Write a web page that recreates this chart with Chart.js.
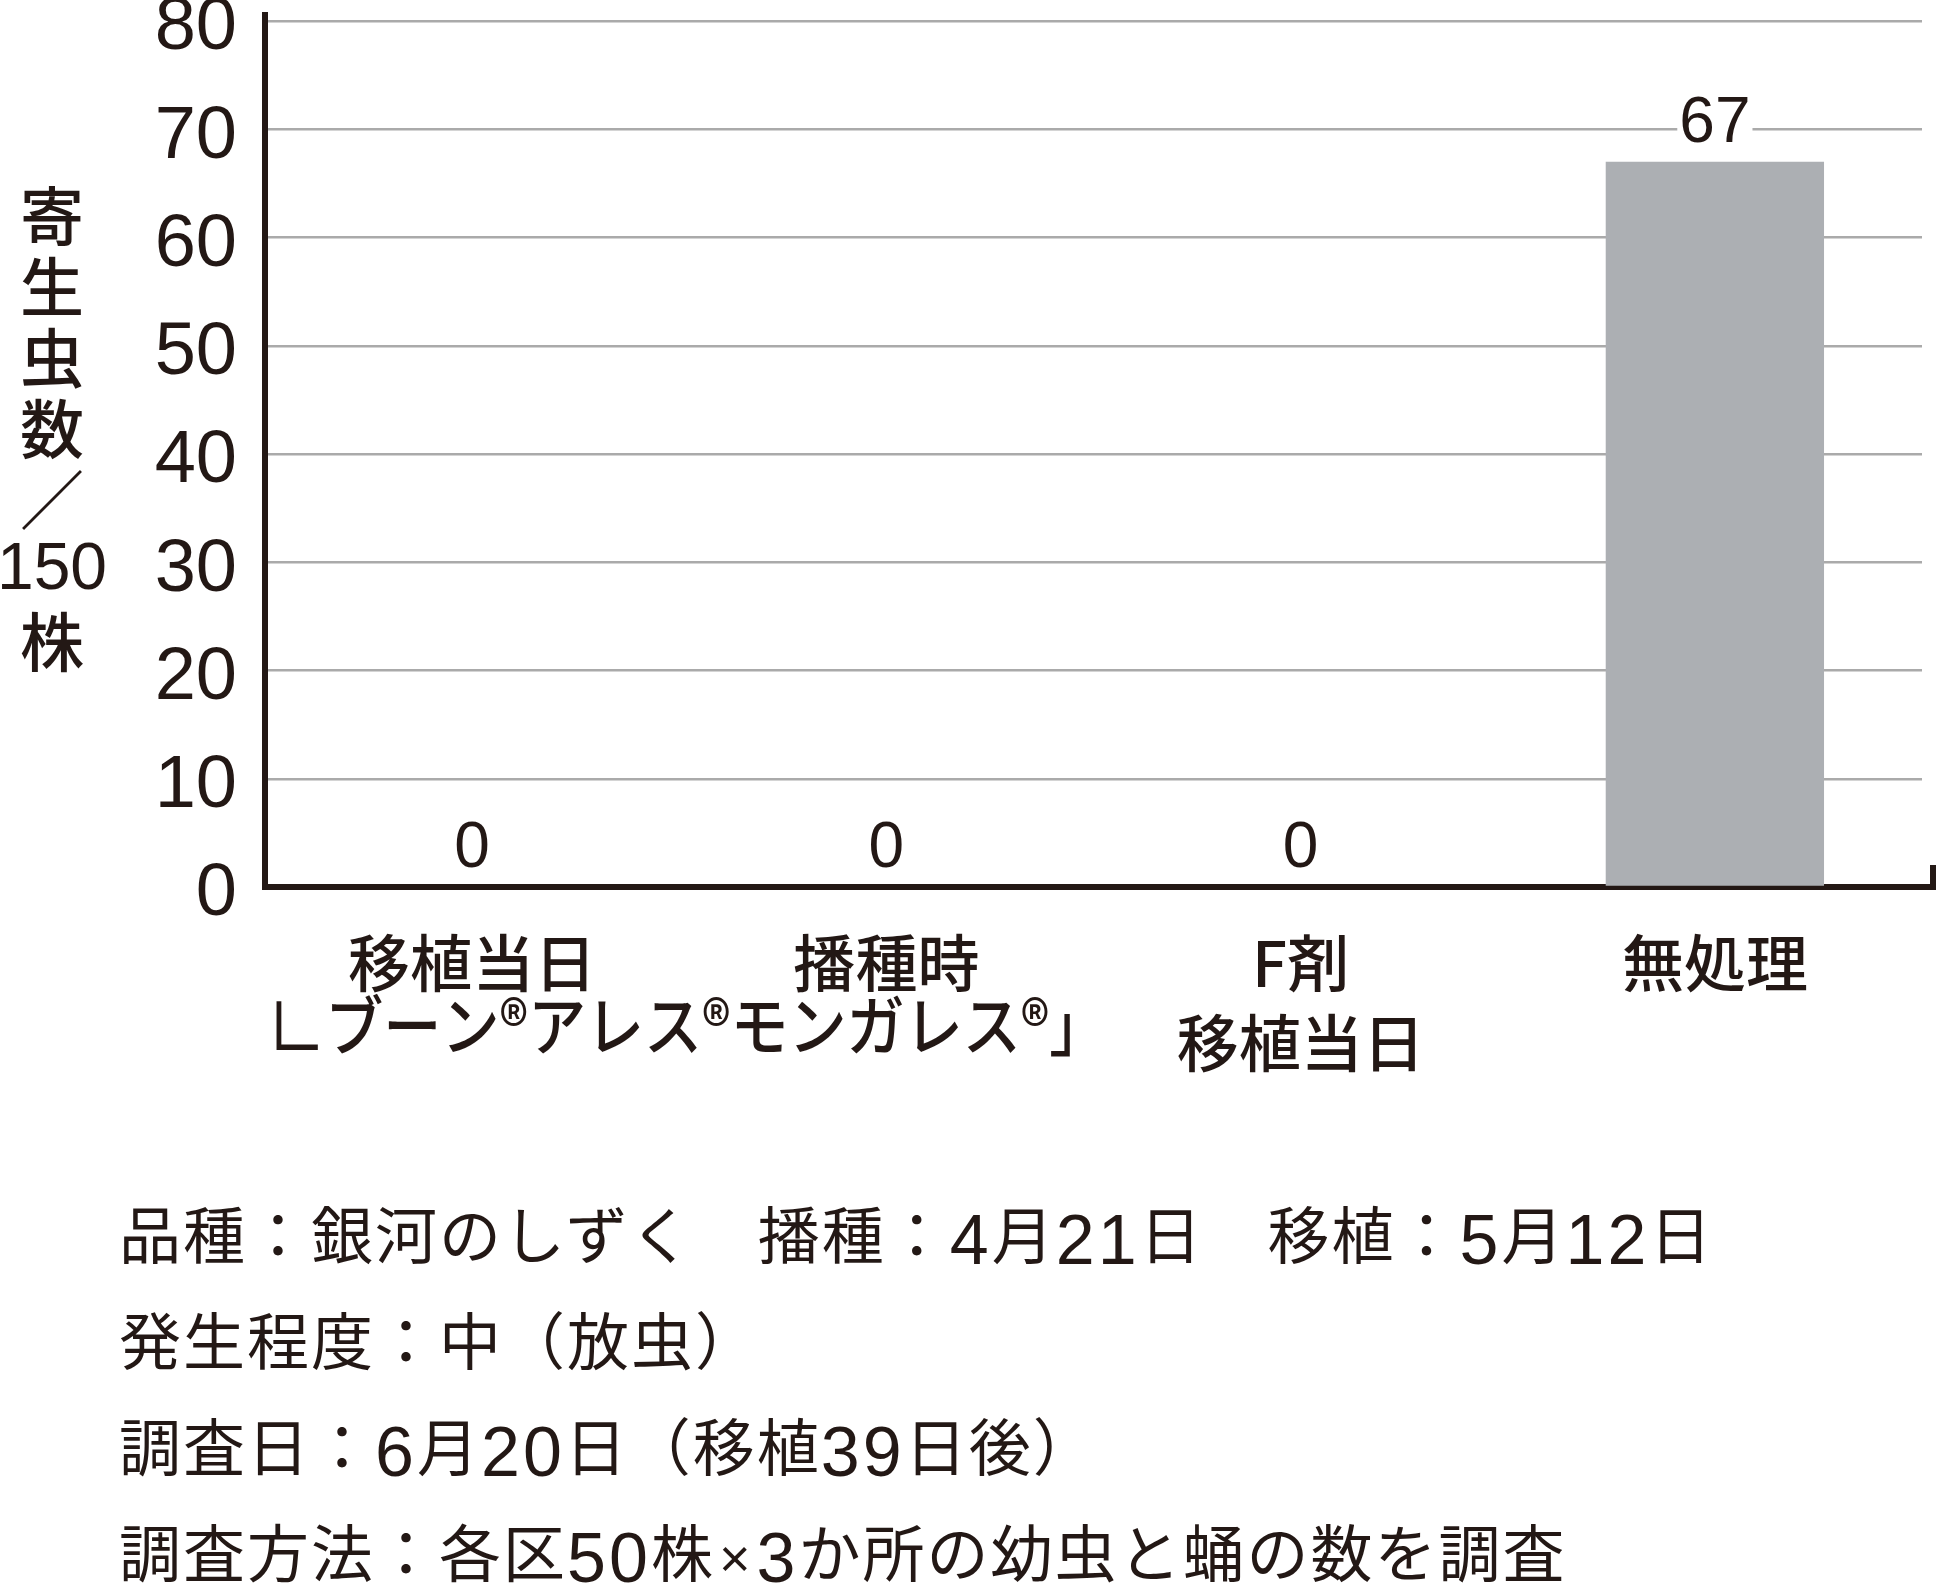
<!DOCTYPE html>
<html lang="ja">
<head>
<meta charset="utf-8">
<title>寄生虫数／150株</title>
<script src="https://cdn.jsdelivr.net/npm/chart.js@4.4.1/dist/chart.umd.min.js"></script>
<style>
  html, body { margin: 0; padding: 0; background: #fff; }
  body { width: 1937px; height: 1586px; position: relative; overflow: hidden; }
  #wrap { position: absolute; left: 0; top: 0; width: 1937px; height: 1100px; }
  #notes {
    position: absolute; left: 119px; top: 1179px;
    font-family: "Noto Sans CJK JP", sans-serif; font-size: 62px;
    color: #231815; letter-spacing: 2px; white-space: pre;
  }
  #notes div { height: 106px; line-height: 106px; overflow: visible; }
  #notes .num { font-family: "Liberation Sans", Arial, sans-serif; font-size: 70px; letter-spacing: 3px; vertical-align: -5px; line-height: 0; }
  #notes .times { font-family: "Liberation Sans", Arial, sans-serif; font-size: 54px; line-height: 0; margin: 0 4px; }
</style>
</head>
<body>
<div id="wrap"><canvas id="myChart"></canvas></div>
<div id="notes"></div>
<script>
// data
const categories = [["移植当日"], ["播種時"], ["F剤", "移植当日"], ["無処理"]];
const counts = [0, 0, 0, 67];
const yTicks = [0, 10, 20, 30, 40, 50, 60, 70, 80];
const yTitle = ["寄", "生", "虫", "数", "／", "150", "株"];
const bracketNote = "∟ブーン®アレス®モンガレス®」";
const notes = [
    "品種：銀河のしずく　播種：4月21日　移植：5月12日",
    "発生程度：中（放虫）",
    "調査日：6月20日（移植39日後）",
    "調査方法：各区50株×3か所の幼虫と蛹の数を調査",
];

const ink = "#231815";
const jp = "'Noto Sans CJK JP', sans-serif";
const latin = "'Liberation Sans', Arial, sans-serif";

// footnotes as real text; digits and × set in the latin face like the original
const notesBox = document.getElementById("notes");
notes.forEach((line) => {
    const row = document.createElement("div");
    line.split(/(\d+|×)/).forEach((part) => {
        if (!part) return;
        if (/^\d+$/.test(part) || part === "×") {
            const s = document.createElement("span");
            s.className = part === "×" ? "times" : "num";
            s.textContent = part;
            row.appendChild(s);
        } else {
            row.appendChild(document.createTextNode(part));
        }
    });
    notesBox.appendChild(row);
});

// numbers above the bars, with a white knock-out behind them
const valueLabels = {
    id: "valueLabels",
    afterDatasetsDraw(chart) {
        const ctx = chart.ctx;
        const meta = chart.getDatasetMeta(0);
        ctx.save();
        ctx.font = "64px " + latin;
        ctx.textAlign = "center";
        ctx.textBaseline = "alphabetic";
        meta.data.forEach((bar, i) => {
            const txt = String(counts[i]);
            const w = ctx.measureText(txt).width;
            const y = bar.y - 20;
            ctx.fillStyle = "#fff";
            ctx.fillRect(bar.x - w / 2 - 2, y - 50, w + 4, 52);
            ctx.fillStyle = ink;
            ctx.fillText(txt, bar.x, y);
        });
        ctx.restore();
    },
};

// stacked y title, bracket note under the first two groups, axis ends
const extras = {
    id: "extras",
    afterDraw(chart) {
        const ctx = chart.ctx;
        const a = chart.chartArea;
        ctx.save();
        ctx.fillStyle = ink;
        ctx.textAlign = "center";
        ctx.textBaseline = "middle";
        yTitle.forEach((t, i) => {
            ctx.font = /^\d+$/.test(t) ? "66px " + latin : "500 64px " + jp;
            ctx.fillText(t, 52, 216 + i * 71);
        });

        const xs = chart.scales.x;
        const cx = (xs.getPixelForValue(0) + xs.getPixelForValue(1)) / 2;
        ctx.font = "500 65px " + jp;
        ctx.fillText(bracketNote, cx + 8, 1025, 840);

        ctx.strokeStyle = ink;
        ctx.lineWidth = 6;
        ctx.beginPath();
        ctx.moveTo(a.left, a.top - 9);
        ctx.lineTo(a.left, a.top);
        ctx.moveTo(a.left - 3, a.bottom);
        ctx.lineTo(a.left, a.bottom);
        ctx.moveTo(a.right - 1, a.bottom);
        ctx.lineTo(a.right + 14, a.bottom);
        ctx.moveTo(a.right + 11, a.bottom + 3);
        ctx.lineTo(a.right + 11, a.bottom - 22);
        ctx.stroke();
        ctx.restore();
    },
};

const chart = new Chart(document.getElementById("myChart"), {
    type: "bar",
    data: {
        labels: categories,
        datasets: [
            {
                data: counts,
                backgroundColor: "#acafb3",
                borderWidth: 0,
                categoryPercentage: 1,
                barPercentage: 0.527,
            },
        ],
    },
    options: {
        responsive: true,
        maintainAspectRatio: false,
        animation: false,
        events: [],
        layout: { padding: { top: 21, right: 15, bottom: 0, left: 0 } },
        plugins: {
            legend: { display: false },
            tooltip: { enabled: false },
            title: { display: false },
        },
        scales: {
            x: {
                z: 1,
                grid: { display: false },
                border: { display: true, color: ink, width: 6 },
                ticks: {
                    color: ink,
                    font: { family: jp, size: 62, weight: "500", lineHeight: 1.29 },
                    padding: 28,
                    maxRotation: 0,
                    autoSkip: false,
                },
                afterFit(s) {
                    s.height = 213;
                    s.paddingLeft = 0;
                    s.paddingRight = 0;
                },
            },
            y: {
                min: 0,
                max: 80,
                afterBuildTicks(s) {
                    s.ticks = yTicks.map((v) => ({ value: v }));
                },
                grid: {
                    color: (c) => (c.tick && c.tick.value === 0 ? "rgba(0,0,0,0)" : "#aaaaaa"),
                    lineWidth: 2.5,
                    drawTicks: false,
                },
                border: { display: true, color: ink, width: 6 },
                ticks: {
                    color: ink,
                    font: { family: latin, size: 74 },
                    padding: 28,
                    labelOffset: 8,
                },
                afterFit(s) {
                    s.width = 265;
                    s.paddingTop = 0;
                    s.paddingBottom = 0;
                },
            },
        },
    },
    plugins: [valueLabels, extras],
});
</script>
</body>
</html>
